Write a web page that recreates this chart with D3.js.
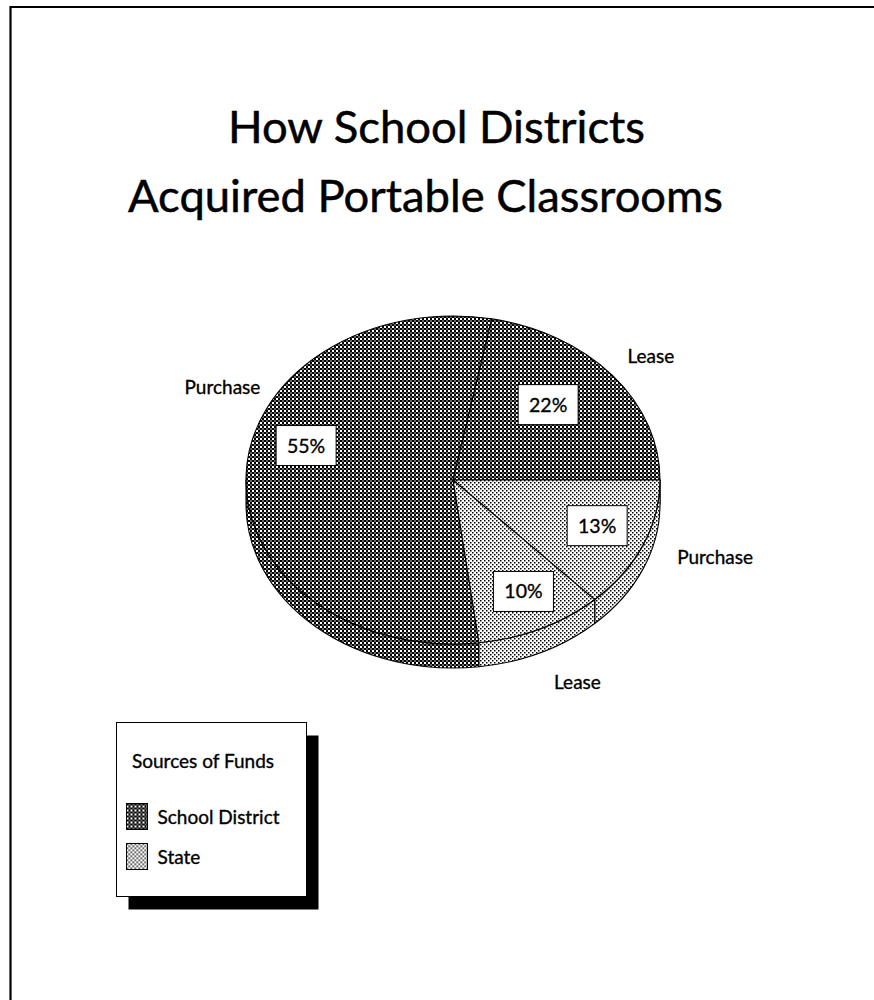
<!DOCTYPE html>
<html>
<head>
<meta charset="utf-8">
<script src="https://cdn.jsdelivr.net/npm/d3@7"></script>
<style>
  html, body { margin: 0; padding: 0; background: #fff; }
  svg { display: block; }
  text { font-family: Lato, "Open Sans", sans-serif; fill: #000; stroke: #000; stroke-width: 0.35px; }
</style>
</head>
<body>
<script>
// ---- data ----
const titleLines = ["How School Districts", "Acquired Portable Classrooms"];
const sliceSources = ["School District", "School District", "State", "State"];
const sliceTypes = ["Purchase", "Lease", "Purchase", "Lease"];
const sliceValues = [55, 22, 13, 10];
const legendTitle = "Sources of Funds";
const legendLabels = ["School District", "State"];

// ---- layout ----
const W = 874, H = 1000;
const cx = 453, cy = 480, rx = 207, ry = 164, depth = 24;

const svg = d3.select("body").append("svg").attr("width", W).attr("height", H);
const defs = svg.append("defs");

// patterns
const pDark = defs.append("pattern").attr("id", "pat-dark").attr("patternUnits", "userSpaceOnUse")
  .attr("width", 4).attr("height", 4);
pDark.append("rect").attr("width", 4).attr("height", 4).attr("fill", "#fff");
pDark.append("rect").attr("x", 0).attr("y", 0).attr("width", 2).attr("height", 2).attr("fill", "#000");
pDark.append("rect").attr("x", 2).attr("y", 2).attr("width", 2).attr("height", 2).attr("fill", "#000");
pDark.append("rect").attr("x", 2).attr("y", 0).attr("width", 2).attr("height", 2).attr("fill", "#666");

const pLight = defs.append("pattern").attr("id", "pat-light").attr("patternUnits", "userSpaceOnUse")
  .attr("width", 4).attr("height", 4);
pLight.append("rect").attr("width", 4).attr("height", 4).attr("fill", "#fff");
pLight.append("rect").attr("x", 0).attr("y", 0).attr("width", 1.5).attr("height", 1.5).attr("fill", "#000");
pLight.append("rect").attr("x", 2).attr("y", 2).attr("width", 1.5).attr("height", 1.5).attr("fill", "#000");

const fillScale = d3.scaleOrdinal().domain(legendLabels).range(["url(#pat-dark)", "url(#pat-light)"]);

// frame (left and top edges)
svg.append("path").attr("d", `M10.5,${H} L10.5,7 L${W},7`)
  .attr("fill", "none").attr("stroke", "#000").attr("stroke-width", 2.2);

// title
const titleBase = [143, 212], titleLen = [417, 595], titleX = [228, 128];
svg.selectAll("text.title").data(titleLines).join("text").attr("class", "title")
  .attr("x", (d, i) => titleX[i]).attr("y", (d, i) => titleBase[i])
  .attr("font-size", 44).style("stroke-width", "0.5px")
  .attr("textLength", (d, i) => titleLen[i]).attr("lengthAdjust", "spacingAndGlyphs")
  .text(d => d);

// pie
const total = d3.sum(sliceValues);
const start = Math.PI / 2 - 2 * Math.PI * (sliceValues[0] + sliceValues[1]) / total;
const pie = d3.pie().sort(null).value(d => d).startAngle(start).endAngle(start + 2 * Math.PI);
const arcs = pie(sliceValues);

const px = a => cx + rx * Math.sin(a);
const py = a => cy - ry * Math.cos(a);

const g = svg.append("g");

// side walls (front half: angles pi/2 .. 3pi/2)
const walls = [];
arcs.forEach((d, i) => {
  for (let k = -2; k <= 2; k++) {
    const a0 = Math.max(d.startAngle + 2 * Math.PI * k, Math.PI / 2);
    const a1 = Math.min(d.endAngle + 2 * Math.PI * k, 3 * Math.PI / 2);
    if (a1 > a0) walls.push({ i, a0, a1 });
  }
});
g.selectAll("path.wall").data(walls).join("path").attr("class", "wall")
  .attr("d", w => {
    const x0 = px(w.a0), y0 = py(w.a0), x1 = px(w.a1), y1 = py(w.a1);
    return `M${x0},${y0} A${rx},${ry} 0 0 1 ${x1},${y1} L${x1},${y1 + depth} A${rx},${ry} 0 0 0 ${x0},${y0 + depth} Z`;
  })
  .attr("fill", w => fillScale(sliceSources[w.i]))
  .attr("stroke", "#000").attr("stroke-width", 1.1).attr("stroke-linejoin", "round");

// top faces
g.selectAll("path.top").data(arcs).join("path").attr("class", "top")
  .attr("d", d => {
    const large = (d.endAngle - d.startAngle) > Math.PI ? 1 : 0;
    return `M${cx},${cy} L${px(d.startAngle)},${py(d.startAngle)} A${rx},${ry} 0 ${large} 1 ${px(d.endAngle)},${py(d.endAngle)} Z`;
  })
  .attr("fill", (d, i) => fillScale(sliceSources[i]))
  .attr("stroke", "#000").attr("stroke-width", 1.1).attr("stroke-linejoin", "round");

// percent boxes (inside)
const inShift = [14.7, -5.4, -1.6, -1.4].map(v => v * Math.PI / 180);
const inR = [0.74, 0.65, 0.75, 0.76];
const boxW = 60, boxH = 40;
const inLab = g.selectAll("g.pct").data(arcs).join("g").attr("class", "pct")
  .attr("transform", (d, i) => {
    const a = (d.startAngle + d.endAngle) / 2 + inShift[i];
    const x = cx + rx * inR[i] * Math.sin(a), y = cy - ry * inR[i] * Math.cos(a);
    return `translate(${x},${y})`;
  });
inLab.append("rect").attr("x", -boxW / 2).attr("y", -boxH / 2).attr("width", boxW).attr("height", boxH)
  .attr("fill", "#fff").attr("stroke", "#000").attr("stroke-width", 1);
inLab.append("text").attr("text-anchor", "middle").attr("y", 7).attr("font-size", 19.5)
  .text(d => d.data + "%");

// outer labels
const outShift = [25.2, 1.2, -3.1, -3.8].map(v => v * Math.PI / 180);
const outR = [1.25, 1.22, 1.35, 1.24];
const outDrop = [0, 0, 0, depth];
g.selectAll("text.out").data(arcs).join("text").attr("class", "out")
  .attr("text-anchor", "middle").attr("font-size", 19)
  .attr("x", (d, i) => cx + rx * outR[i] * Math.sin((d.startAngle + d.endAngle) / 2 + outShift[i]))
  .attr("y", (d, i) => cy - ry * outR[i] * Math.cos((d.startAngle + d.endAngle) / 2 + outShift[i]) + outDrop[i] + 7)
  .text((d, i) => sliceTypes[i]);

// legend
const lg = svg.append("g").attr("transform", "translate(116.5,722.5)");
lg.append("rect").attr("x", 12).attr("y", 13).attr("width", 190).attr("height", 174).attr("fill", "#000");
lg.append("rect").attr("width", 190).attr("height", 174).attr("fill", "#fff").attr("stroke", "#000").attr("stroke-width", 1);
lg.append("text").attr("x", 15.5).attr("y", 45.5).attr("font-size", 19).text(legendTitle);
const items = lg.selectAll("g.item").data(legendLabels).join("g").attr("class", "item")
  .attr("transform", (d, i) => `translate(10,${81 + i * 40})`);
items.append("rect").attr("width", 21).attr("height", 26).attr("fill", d => fillScale(d))
  .attr("stroke", "#000").attr("stroke-width", 1);
items.append("text").attr("x", 31).attr("y", 20).attr("font-size", 19).text(d => d);
</script>
</body>
</html>
